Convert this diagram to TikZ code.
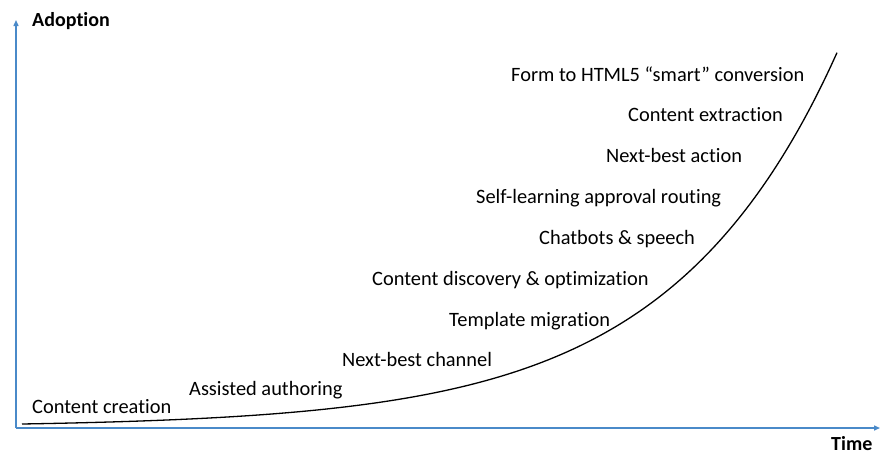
\documentclass[tikz,border=0pt]{standalone}
\usepackage{fontspec}
\setmainfont{Carlito}[Ligatures=NoCommon]
\usetikzlibrary{arrows.meta}
\definecolor{axisblue}{HTML}{4A8AC9}
\tikzset{
  axisline/.style={draw=axisblue, line width=1.4pt, -{Triangle[length=6pt,width=5pt]}},
  trend/.style={draw=black, line width=1.3pt},
  item/.style={anchor=base west, inner sep=0pt, font=\fontsize{20.4}{22}\selectfont},
  axislabel/.style={anchor=base west, inner sep=0pt, font=\fontsize{20}{22}\selectfont\bfseries},
}
\begin{document}
\begin{tikzpicture}[x=1pt,y=-1pt]
\useasboundingbox (0,0) rectangle (880,455);

% axes
\coordinate (O) at (16,428);
\coordinate (ytop) at (16,20);
\coordinate (xend) at (880,428);
\draw[axisline] (O) -- (ytop);
\draw[axisline] (O) -- (xend);

\node[axislabel] (adoption) at (32,27) {Adoption};
\node[axislabel] (time) at (831,450) {Time};

% adoption curve
\draw[trend] plot[domain=22:837, samples=120, smooth]
  (\x, {428 - 2.93*exp(0.00595*(\x-22)) - 1.07});

% capabilities along the curve
\node[item] (l1) at (511,81)  {Form to HTML5 “smart” conversion};
\node[item] (l2) at (628,121) {Content extraction};
\node[item] (l3) at (606,162) {Next-best action};
\node[item] (l4) at (476,203) {Self-learning approval routing};
\node[item] (l5) at (539,244) {Chatbots \& speech};
\node[item] (l6) at (372,285) {Content discovery \& optimization};
\node[item] (l7) at (449,326) {Template migration};
\node[item] (l8) at (342,366) {Next-best channel};
\node[item] (l9) at (189,395) {Assisted authoring};
\node[item] (l10) at (32,413) {Content creation};
\end{tikzpicture}
\end{document}
